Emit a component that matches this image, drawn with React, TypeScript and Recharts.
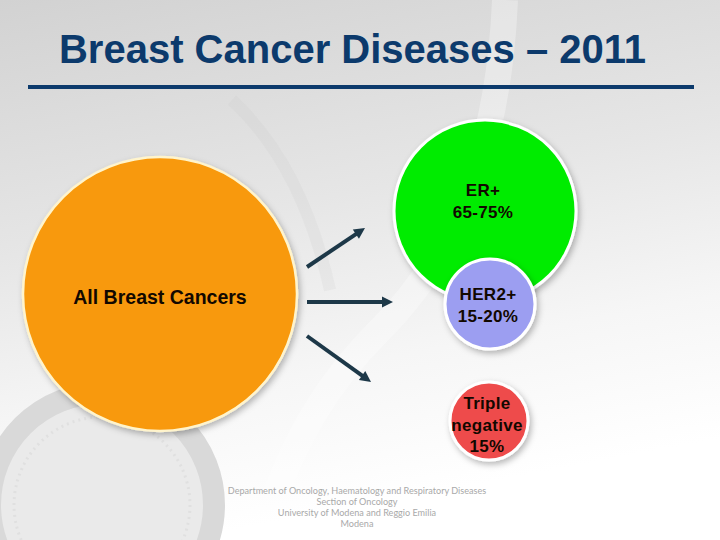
import React from 'react';
import { ScatterChart, Scatter, XAxis, YAxis, ReferenceLine } from 'recharts';

// bubbles: slide position (px) and radius (px)
const bubbleNames = ['All Breast Cancers', 'ER+', 'HER2+', 'Triple negative'];
const bubbleX = [160, 485, 490, 489];
const bubbleY = [294, 211, 304, 421];
const bubbleR = [137, 91, 45, 39];
const bubbleLines = [['All Breast Cancers'], ['ER+', '65-75%'], ['HER2+', '15-20%'], ['Triple', 'negative', '15%']];

// arrows from the big circle to the subtypes
const arrowFrom = [[307, 267], [307, 302], [307, 336]];
const arrowTo = [[365, 228], [393, 302], [371, 382]];

const footerLines = [
  'Department of Oncology, Haematology and Respiratory Diseases',
  'Section of Oncology',
  'University of Modena and Reggio Emilia',
  'Modena',
];

const FILLS = ['#F8990B', '#02EC02', '#9C9EF1', '#EE4C4C'];
const STROKES = ['#FFF4CC', '#FFFFFF', '#FFFFFF', '#FFFFFF'];
const FONT_SIZES = [19.5, 17, 17, 17];
const LINE_GAP = [0, 22, 22, 21.5];
const LABEL_DY = [3, -10, 1, 4];
const NAVY = '#0C3A6C';
const ARROW = '#1D3848';

const data = bubbleNames.map((name, i) => ({
  name,
  idx: i,
  x: bubbleX[i],
  y: bubbleY[i],
  r: bubbleR[i],
  lines: bubbleLines[i],
}));

const BubbleShape = (props: any) => {
  const { cx, cy, payload } = props;
  const i = payload.idx;
  const lines: string[] = payload.lines;
  const gap = LINE_GAP[i];
  const top = cy + LABEL_DY[i] - ((lines.length - 1) * gap) / 2;
  return (
    <g>
      <circle cx={cx} cy={cy} r={payload.r} fill={FILLS[i]} stroke={STROKES[i]} strokeWidth={i === 0 ? 2.5 : 3} filter="url(#bubbleShadow)" />
      {lines.map((t, k) => (
        <text
          key={k}
          x={cx - (i === 0 ? 0 : 2)}
          y={top + k * gap}
          textAnchor="middle"
          dominantBaseline="central"
          fontFamily="'Liberation Sans', Arial, sans-serif"
          fontWeight="bold"
          fontSize={FONT_SIZES[i]}
          letterSpacing={i === 0 ? 0 : 0.3}
          fill="#120800"
        >
          {t}
        </text>
      ))}
    </g>
  );
};

const Arrow = (p: any) => {
  const { x1, y1, x2, y2 } = p;
  const dx = x2 - x1;
  const dy = y2 - y1;
  const len = Math.sqrt(dx * dx + dy * dy);
  const ux = dx / len;
  const uy = dy / len;
  const head = 11;
  const half = 5.5;
  const bx = x2 - ux * head;
  const by = y2 - uy * head;
  return (
    <g>
      <line x1={x1} y1={y1} x2={bx + ux} y2={by + uy} stroke={ARROW} strokeWidth={4} />
      <polygon
        points={`${x2},${y2} ${bx - uy * half},${by + ux * half} ${bx + uy * half},${by - ux * half}`}
        fill={ARROW}
      />
    </g>
  );
};

const App: React.FC = () => {
  return (
    <div style={{ position: 'absolute', left: 0, top: 0, width: 720, height: 540, overflow: 'hidden', fontFamily: 'Arial, sans-serif' }}>
      {/* slide background */}
      <svg width={720} height={540} style={{ position: 'absolute', left: 0, top: 0 }}>
        <defs>
          <linearGradient id="bg" x1="0" y1="0" x2="0.25" y2="1">
            <stop offset="0%" stopColor="#D2D2D2" />
            <stop offset="45%" stopColor="#E6E6E6" />
            <stop offset="75%" stopColor="#F6F6F6" />
            <stop offset="100%" stopColor="#FFFFFF" />
          </linearGradient>
        </defs>
        <rect width={720} height={540} fill="url(#bg)" />
        <path d="M505,0 C500,120 470,240 380,330 C330,380 290,440 260,540" fill="none" stroke="#FFFFFF" strokeOpacity={0.3} strokeWidth={26} />
        <path d="M232,100 C275,140 310,200 330,290" fill="none" stroke="#C8C8C8" strokeOpacity={0.18} strokeWidth={12} />
        <circle cx={102} cy={505} r={112} fill="#EAEAEA" stroke="#D9D9D9" strokeWidth={22} />
        <circle cx={102} cy={505} r={88} fill="none" stroke="#E0E0E0" strokeWidth={3} strokeDasharray="2 4" />
      </svg>

      <div style={{ position: 'absolute', left: 0, top: 0 }}>
        <ScatterChart width={720} height={540} margin={{ top: 0, right: 0, bottom: 0, left: 0 }}>
          <defs>
            <filter id="bubbleShadow" x="-20%" y="-20%" width="150%" height="150%">
              <feDropShadow dx={2} dy={3} stdDeviation={3} floodColor="#000" floodOpacity={0.28} />
            </filter>
          </defs>
          <XAxis type="number" dataKey="x" domain={[0, 720]} allowDataOverflow hide />
          <YAxis type="number" dataKey="y" domain={[0, 540]} reversed allowDataOverflow hide />
          <Scatter data={data} shape={BubbleShape} isAnimationActive={false} />
          {arrowFrom.map((f, i) => (
            <ReferenceLine
              key={i}
              segment={[{ x: f[0], y: f[1] }, { x: arrowTo[i][0], y: arrowTo[i][1] }]}
              ifOverflow="visible"
              shape={(p: any) => <Arrow {...p} />}
            />
          ))}
        </ScatterChart>
      </div>

      <div
        style={{
          position: 'absolute',
          left: 0,
          width: 705,
          top: 24,
          textAlign: 'center',
          color: NAVY,
          fontFamily: "'Liberation Sans', Arial, sans-serif",
          fontWeight: 'bold',
          fontSize: 40,
          lineHeight: '50px',
        }}
      >
        Breast Cancer Diseases – 2011
      </div>
      <div style={{ position: 'absolute', left: 28, top: 85, width: 666, height: 3.5, background: NAVY }} />

      <div
        style={{
          position: 'absolute',
          left: 0,
          width: 714,
          top: 485,
          textAlign: 'center',
          color: '#A9A9A9',
          fontFamily: "Lato, 'Open Sans', sans-serif",
          fontSize: 9.1,
          lineHeight: '11px',
        }}
      >
        {footerLines.map((l) => (
          <div key={l}>{l}</div>
        ))}
      </div>
    </div>
  );
};

export default App;
